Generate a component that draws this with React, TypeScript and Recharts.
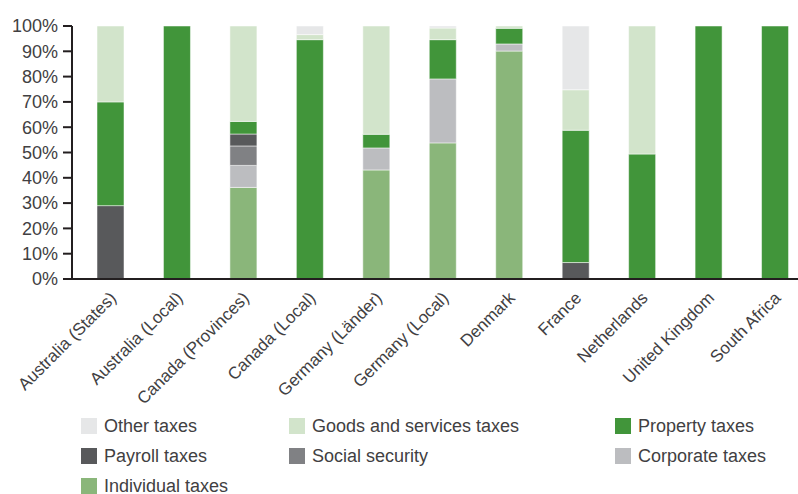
import React from "react";
import { Bar, BarChart, XAxis, YAxis } from "recharts";

const categories = [
  "Australia (States)",
  "Australia (Local)",
  "Canada (Provinces)",
  "Canada (Local)",
  "Germany (Länder)",
  "Germany (Local)",
  "Denmark",
  "France",
  "Netherlands",
  "United Kingdom",
  "South Africa",
];

// shares in percent, bottom of the stack first
const individual = [0, 0, 36.2, 0, 43.1, 53.8, 90.1, 0, 0, 0, 0];
const corporate = [0, 0, 8.7, 0, 8.7, 25.3, 2.8, 0, 0, 0, 0];
const socialSecurity = [0, 0, 7.7, 0, 0, 0, 0, 0, 0, 0, 0];
const payroll = [29, 0, 4.7, 0, 0, 0, 0, 6.5, 0, 0, 0];
const property = [41, 100, 5, 94.6, 5.4, 15.5, 6.2, 52.3, 49.4, 100, 100];
const goods = [30, 0, 37.7, 2, 42.8, 4.6, 0.9, 16, 50.6, 0, 0];
const other = [0, 0, 0, 3.4, 0, 0.8, 0, 25.2, 0, 0, 0];

const yTicks = [0, 10, 20, 30, 40, 50, 60, 70, 80, 90, 100];

const series = [
  { key: "individual", name: "Individual taxes", color: "#8ab67a", values: individual },
  { key: "corporate", name: "Corporate taxes", color: "#bcbdc0", values: corporate },
  { key: "social", name: "Social security", color: "#808184", values: socialSecurity },
  { key: "payroll", name: "Payroll taxes", color: "#58595b", values: payroll },
  { key: "property", name: "Property taxes", color: "#41953a", values: property },
  { key: "goods", name: "Goods and services taxes", color: "#d2e4cb", values: goods },
  { key: "other", name: "Other taxes", color: "#e6e7e8", values: other },
];

const legendRows = [
  ["other", "goods", "property"],
  ["payroll", "social", "corporate"],
  ["individual"],
];

const data = categories.map((name, i) => {
  const row: Record<string, string | number> = { name };
  series.forEach((s) => {
    row[s.key] = s.values[i];
  });
  return row;
});

const FONT = "'Liberation Sans', Arial, sans-serif";
const TEXT = "#414042";

function XTick({ x, y, payload }: any) {
  const tx = x + 7;
  const ty = y + 12;
  return (
    <text
      x={tx}
      y={ty}
      transform={`rotate(-45, ${tx}, ${ty})`}
      textAnchor="end"
      fontSize={17}
      fontFamily={FONT}
      fill={TEXT}
    >
      {payload.value}
    </text>
  );
}

function Legend() {
  const colX = [81, 289, 615];
  return (
    <>
      {legendRows.map((row, r) =>
        row.map((key, c) => {
          const s = series.find((d) => d.key === key)!;
          return (
            <div
              key={key}
              style={{
                position: "absolute",
                left: colX[c],
                top: 418 + r * 30,
                display: "flex",
                alignItems: "center",
                height: 16,
                fontFamily: FONT,
                fontSize: 18,
                color: TEXT,
                whiteSpace: "nowrap",
              }}
            >
              <span
                style={{ width: 16, height: 16, background: s.color, marginRight: 7 }}
              />
              {s.name}
            </div>
          );
        })
      )}
    </>
  );
}

export default function App() {
  return (
    <div
      style={{
        position: "fixed",
        left: 0,
        top: 0,
        width: 798,
        height: 494,
        overflow: "hidden",
        background: "#fff",
      }}
    >
      <BarChart
        width={808}
        height={494}
        data={data}
        margin={{ top: 26, right: 0, bottom: 94, left: 0 }}
        barSize={27}
      >
        <XAxis
          dataKey="name"
          interval={0}
          tick={<XTick />}
          tickLine={false}
          axisLine={{ stroke: "#231f20", strokeWidth: 2 }}
          padding={{ left: 5, right: 0 }}
          height={121}
        />
        <YAxis
          width={72}
          domain={[0, 100]}
          ticks={yTicks}
          interval={0}
          tickFormatter={(v) => `${v}%`}
          tick={{ fontSize: 18, fontFamily: FONT, fill: TEXT }}
          tickSize={9}
          tickMargin={5}
          tickLine={{ stroke: "#231f20", strokeWidth: 2 }}
          axisLine={{ stroke: "#231f20", strokeWidth: 2 }}
        />
        {series.map((s) => (
          <Bar
            key={s.key}
            dataKey={s.key}
            name={s.name}
            stackId="a"
            fill={s.color}
            stroke="#ffffff"
            strokeOpacity={0.5}
            strokeWidth={1}
            isAnimationActive={false}
          />
        ))}
      </BarChart>
      <Legend />
    </div>
  );
}
